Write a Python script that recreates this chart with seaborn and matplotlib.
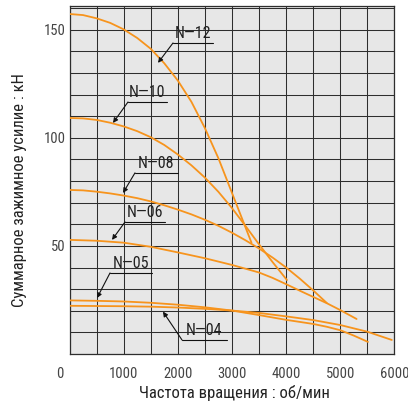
import numpy as np
import pandas as pd
import matplotlib
matplotlib.use("Agg")
import matplotlib.pyplot as plt
from matplotlib.transforms import ScaledTranslation
import seaborn as sns

# Кривые: частота вращения (об/мин) -> суммарное зажимное усилие (кН)
models = ["N–12", "N–10", "N–08", "N–06", "N–05", "N–04"]

rpm_n12 = [0, 250, 500, 750, 1000, 1250, 1500, 1750, 2000, 2250, 2500,
           2750, 3000, 3180, 3360]
force_n12 = [157.3, 156.8, 155.3, 153.2, 150.2, 146.2, 141.2, 134.5, 126.5,
             116.7, 104.5, 90.5, 74.5, 63.0, 51.5]

rpm_n10 = [0, 250, 500, 750, 1000, 1250, 1500, 1750, 2000, 2250, 2500,
           2750, 3000, 3250, 3500, 3750, 4015]
force_n10 = [109.2, 109.0, 108.3, 107.0, 105.3, 103.1, 100.3, 96.7, 92.3,
             87.3, 81.6, 75.0, 67.5, 59.2, 50.7, 42.5, 34.2]

rpm_n08 = [0, 250, 500, 750, 1000, 1250, 1500, 1750, 2000, 2250, 2500, 2750,
           3000, 3250, 3500, 3750, 4000, 4250, 4500, 4750]
force_n08 = [75.9, 75.7, 75.1, 74.3, 73.3, 72.1, 70.6, 68.8, 66.8, 64.6, 62.1,
             59.3, 56.1, 52.6, 48.8, 44.6, 40.0, 34.9, 29.4, 23.6]

rpm_n06 = [0, 500, 1000, 1500, 2000, 2500, 3000, 3500, 3750, 4000, 4250,
           4500, 4750, 5000, 5300]
force_n06 = [52.8, 52.4, 51.5, 49.6, 47.0, 44.3, 41.2, 37.7, 35.2, 32.3, 29.3,
             26.4, 23.5, 20.3, 16.2]

rpm_n05 = [0, 500, 1000, 1500, 2000, 2500, 3000, 3500, 4000, 4500, 4750,
           5000, 5250, 5510]
force_n05 = [24.8, 24.6, 24.3, 23.7, 22.8, 21.6, 20.1, 18.0, 15.8, 13.9, 12.6,
             11.0, 8.5, 5.6]

rpm_n04 = [0, 1000, 1500, 2000, 2500, 3000, 3500, 4000, 4500, 5000, 5500, 5950]
force_n04 = [22.3, 22.1, 21.9, 21.5, 20.9, 20.1, 19.0, 17.4, 15.7, 13.4, 10.3,
             6.5]

x_ticks = [0, 1000, 2000, 3000, 4000, 5000, 6000]
y_ticks = [50, 100, 150]

series = [
    (rpm_n12, force_n12), (rpm_n10, force_n10), (rpm_n08, force_n08),
    (rpm_n06, force_n06), (rpm_n05, force_n05), (rpm_n04, force_n04),
]
frames = []
for name, (xs, ys) in zip(models, series):
    frames.append(pd.DataFrame({"rpm": xs, "force": ys, "model": name}))
df = pd.concat(frames, ignore_index=True)

# Подписи: (острие стрелки, начало полки, конец полки)
label_layout = {
    "N–12": ((1634, 134.7), (1911, 143.9), 2649),
    "N–10": ((803, 106.9), (1080, 116.6), 1800),
    "N–08": ((988, 74.5), (1209, 83.8), 2003),
    "N–06": ((785, 52.8), (1025, 61.1), 1763),
    "N–05": ((508, 25.9), (748, 37.5), 1523),
    "N–04": ((1726, 19.6), (2077, 6.5), 2907),
}

ORANGE = "#f7941d"
GRID = "#2e2e2e"
BG = "#e7e7e7"

sns.set_theme(style="whitegrid")
plt.rcParams["font.family"] = ["Roboto Condensed", "DejaVu Sans"]

fig = plt.figure(figsize=(4.08, 4.03), dpi=100)
ax = fig.add_axes([69.5 / 408, 49 / 403, 325 / 408, 348 / 403])
ax.set_facecolor(BG)

sns.lineplot(data=df, x="rpm", y="force", hue="model",
             palette={m: ORANGE for m in models}, estimator=None, sort=False,
             legend=False, linewidth=1.3, ax=ax, zorder=3)

ax.set_xlim(0, 6000)
ax.set_ylim(0, 161)
ax.set_xticks(x_ticks)
ax.set_xticks(np.arange(0, 6001, 500), minor=True)
ax.set_yticks(y_ticks)
ax.set_yticks(np.arange(0, 161, 10), minor=True)
ax.grid(which="both", color=GRID, linewidth=0.75)
ax.set_axisbelow(True)
ax.tick_params(which="both", length=0)
ax.tick_params(axis="x", pad=9, labelsize=10.5, labelcolor="#444444")
ax.tick_params(axis="y", pad=3, labelsize=10.5, labelcolor="#444444")
for s in ax.spines.values():
    s.set_color(GRID)
    s.set_linewidth(0.9)

ax.set_xlabel("Частота вращения : об/мин", fontsize=12, color="#222222")
ax.set_ylabel("Суммарное зажимное усилие : кН", fontsize=12, color="#222222")
ax.xaxis.set_label_coords(0.506, -0.089)
ax.yaxis.set_label_coords(-0.132, 0.47)

for name in models:
    tip, corner, end_x = label_layout[name]
    ax.annotate("", xy=tip, xytext=corner,
                arrowprops=dict(arrowstyle="-|>", color="#111111", lw=0.8,
                                mutation_scale=7, shrinkA=0, shrinkB=0),
                zorder=4)
    ax.plot([corner[0], end_x], [corner[1], corner[1]], color="#111111",
            lw=0.8, zorder=4)
    ax.annotate(name.replace("–", "—"), xy=((corner[0] + end_x) / 2, corner[1]),
                xytext=(0, 1.5), textcoords="offset points",
                ha="center", va="bottom", fontsize=11.5,
                color="#222222", zorder=5)

fig.canvas.draw()
first = ax.get_xticklabels()[0]
first.set_transform(first.get_transform() +
                    ScaledTranslation(-0.1, 0, fig.dpi_scale_trans))

fig.savefig("out.png", dpi=100)
